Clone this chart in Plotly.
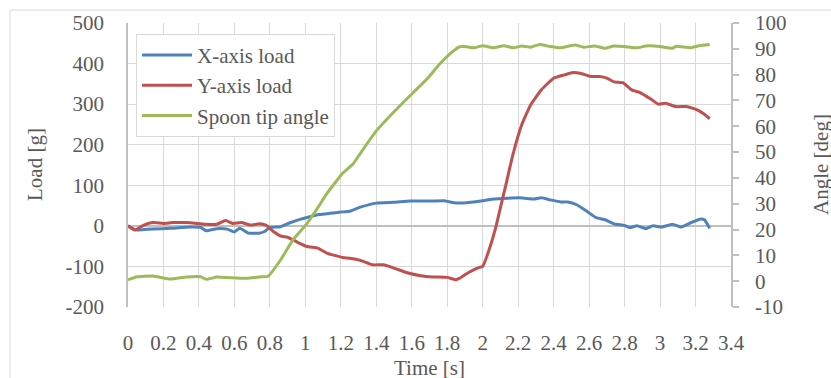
import plotly.graph_objects as go

# Spoon tip angle [deg] (right axis)
t_angle = [0, 0.05, 0.14, 0.24, 0.33, 0.41, 0.44, 0.50, 0.58, 0.67, 0.75, 0.79,
           0.86, 0.93, 1.01, 1.08, 1.12, 1.21, 1.27, 1.31, 1.40, 1.50, 1.60, 1.69,
           1.76, 1.83, 1.87, 1.91, 1.95, 2.00, 2.06, 2.12, 2.17, 2.22, 2.27, 2.32,
           2.38, 2.44, 2.52, 2.57, 2.63, 2.69, 2.74, 2.80, 2.87, 2.92, 3.00, 3.07,
           3.09, 3.17, 3.22, 3.28]
angle = [0.5, 1.7, 2.0, 0.8, 1.6, 1.7, 0.7, 1.6, 1.3, 1.1, 1.7, 1.9,
         8.2, 16.0, 22.4, 29.5, 33.8, 41.8, 45.5, 49.5, 58.2, 65.6, 72.5, 78.6,
         84.3, 88.9, 90.8, 90.8, 90.4, 91.2, 90.4, 91.2, 90.4, 91.1, 90.6, 91.7,
         90.9, 90.4, 91.5, 90.6, 91.1, 90.2, 91.1, 90.9, 90.4, 91.1, 90.9, 90.2,
         91.0, 90.4, 91.2, 91.7]

# X-axis load [g]
t_xload = [0, 0.04, 0.09, 0.14, 0.24, 0.35, 0.41, 0.44, 0.50, 0.56, 0.60, 0.63,
           0.68, 0.74, 0.77, 0.80, 0.86, 0.91, 0.97, 1.02, 1.08, 1.14, 1.20, 1.25,
           1.31, 1.40, 1.50, 1.59, 1.69, 1.78, 1.84, 1.91, 1.97, 2.06, 2.14, 2.21,
           2.26, 2.29, 2.33, 2.38, 2.44, 2.48, 2.53, 2.59, 2.64, 2.69, 2.74, 2.80,
           2.83, 2.87, 2.92, 2.96, 3.01, 3.07, 3.12, 3.17, 3.23, 3.25, 3.28]
x_load = [0, -10, -9, -8, -6, -3, -4, -12, -7, -8, -15, -6,
          -18, -18, -14, -4, -2, 7, 16, 22, 28, 31, 34, 36,
          46, 56, 58, 61, 61, 62, 57, 57, 60, 66, 68, 69,
          67, 66, 69, 64, 59, 59, 52, 35, 20, 15, 5, 1,
          -4, 0, -7, 0, -3, 4, -3, 7, 17, 15, -6]

# Y-axis load [g]
t_yload = [0, 0.04, 0.09, 0.14, 0.20, 0.25, 0.33, 0.39, 0.44, 0.50, 0.55, 0.59,
           0.64, 0.69, 0.74, 0.78, 0.82, 0.86, 0.90, 0.95, 1.01, 1.07, 1.12, 1.21,
           1.25, 1.31, 1.38, 1.44, 1.50, 1.57, 1.65, 1.72, 1.80, 1.85, 1.87, 1.92,
           1.97, 2.00, 2.03, 2.07, 2.10, 2.13, 2.17, 2.22, 2.27, 2.33, 2.40, 2.46,
           2.51, 2.55, 2.61, 2.66, 2.70, 2.74, 2.79, 2.84, 2.89, 2.95, 2.99, 3.03,
           3.09, 3.15, 3.21, 3.25, 3.28]
y_load = [0, -10, 2, 8, 6, 8, 8, 6, 4, 4, 13, 6,
          8, 2, 5, 1, -14, -25, -28, -39, -51, -55, -67, -78,
          -80, -85, -96, -96, -104, -115, -123, -126, -127, -133, -129, -115,
          -104, -100, -67, -10, 45, 100, 175, 249, 298, 335, 364, 372,
          378, 376, 368, 368, 364, 355, 353, 335, 328, 312, 300, 302,
          294, 294, 286, 275, 264]

# Axis ticks
time_ticks = [0, 0.2, 0.4, 0.6, 0.8, 1, 1.2, 1.4, 1.6, 1.8, 2, 2.2, 2.4, 2.6, 2.8, 3, 3.2, 3.4]
time_labels = ["0", "0.2", "0.4", "0.6", "0.8", "1", "1.2", "1.4", "1.6", "1.8",
               "2", "2.2", "2.4", "2.6", "2.8", "3", "3.2", "3.4"]
load_ticks = [-200, -100, 0, 100, 200, 300, 400, 500]
load_labels = ["-200", "-100", "0", "100", "200", "300", "400", "500"]
angle_ticks = [-10, 0, 10, 20, 30, 40, 50, 60, 70, 80, 90, 100]
angle_labels = ["-10", "0", "10", "20", "30", "40", "50", "60", "70", "80", "90", "100"]

FONT = "Liberation Serif"
FS = 21
TEXT = "#595959"
GRID = "#d9d9d9"
AXIS = "#bfbfbf"

fig = go.Figure()
fig.add_trace(go.Scatter(x=t_xload, y=x_load, name="X-axis load", mode="lines",
                         line=dict(color="#4f81bd", width=3, shape="spline", smoothing=0.4)))
fig.add_trace(go.Scatter(x=t_yload, y=y_load, name="Y-axis load", mode="lines",
                         line=dict(color="#c0504d", width=3, shape="spline", smoothing=0.4)))
fig.add_trace(go.Scatter(x=t_angle, y=angle, name="Spoon tip angle", mode="lines",
                         line=dict(color="#9bbb59", width=3, shape="spline", smoothing=0.4),
                         yaxis="y2"))

fig.update_layout(
    width=831, height=378,
    margin=dict(l=128, r=100, t=23, b=71),
    paper_bgcolor="white", plot_bgcolor="white",
    font=dict(family=FONT, size=FS, color=TEXT),
    showlegend=True,
    legend=dict(x=0.0133, y=0.962, xanchor="left", yanchor="top",
                bgcolor="white", bordercolor=GRID, borderwidth=1,
                font=dict(family=FONT, size=FS, color=TEXT),
                itemwidth=50, tracegroupgap=0),
    xaxis=dict(range=[0, 3.4], tickvals=time_ticks, ticktext=time_labels,
               showgrid=True, gridcolor=GRID, gridwidth=1.3, zeroline=False,
               showline=False, ticks="", ticklabelstandoff=21,
               tickfont=dict(family=FONT, size=FS, color=TEXT)),
    yaxis=dict(range=[-200, 500], tickvals=load_ticks, ticktext=load_labels,
               showgrid=True, gridcolor=GRID, gridwidth=1.3,
               zeroline=True, zerolinecolor=AXIS, zerolinewidth=1.5,
               showline=True, linecolor=AXIS, linewidth=1.5,
               ticks="", ticklabelstandoff=18,
               tickfont=dict(family=FONT, size=FS, color=TEXT)),
    yaxis2=dict(range=[-10, 100], tickvals=angle_ticks, ticktext=angle_labels,
                overlaying="y", side="right", showgrid=False, zeroline=False,
                showline=True, linecolor=AXIS, linewidth=1.5,
                ticks="outside", ticklen=6, tickcolor=AXIS, tickwidth=1.5,
                ticklabelstandoff=12,
                tickfont=dict(family=FONT, size=FS, color=TEXT)),
    annotations=[
        dict(text="Load [g]", xref="paper", yref="paper", x=0, y=0.5,
             xanchor="center", yanchor="middle", xshift=-93, textangle=-90,
             showarrow=False, font=dict(family=FONT, size=FS, color=TEXT)),
        dict(text="Angle [deg]", xref="paper", yref="paper", x=1, y=0.5,
             xanchor="center", yanchor="middle", xshift=90, textangle=-90,
             showarrow=False, font=dict(family=FONT, size=FS, color=TEXT)),
        dict(text="Time [s]", xref="paper", yref="paper", x=0.5, y=0,
             xanchor="center", yanchor="middle", yshift=-61,
             showarrow=False, font=dict(family=FONT, size=FS, color=TEXT)),
    ],
    shapes=[
        # outer chart frame
        dict(type="rect", xref="paper", yref="paper", layer="below",
             x0=-0.1957, x1=1.2, y0=-0.3, y1=1.0458,
             line=dict(color=GRID, width=1), fillcolor="rgba(0,0,0,0)"),
    ],
)

fig.write_html("out.html")
